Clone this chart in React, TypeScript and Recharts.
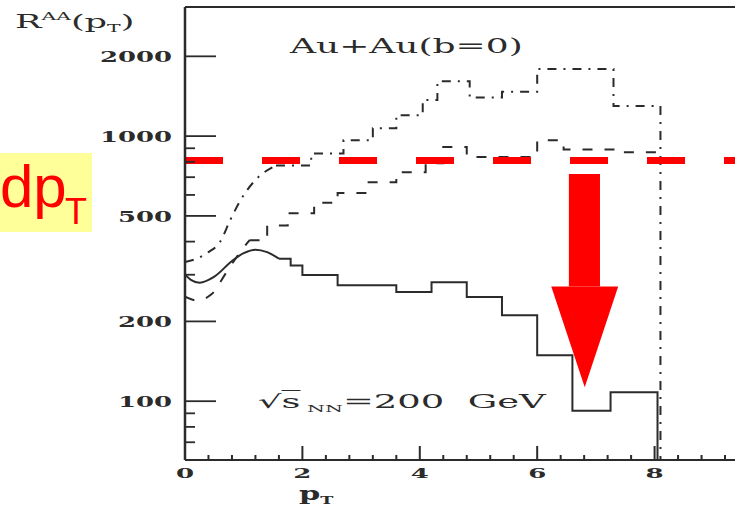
import React from 'react';
import { LineChart, Line, XAxis, YAxis, ReferenceLine, ReferenceArea } from 'recharts';

const X_MAX = 9.37;
const Y_MIN = 60;
const Y_MAX = 3070;

const X_MAJOR = [0, 2, 4, 6, 8];
const X_TICKS = [0, 0.4, 0.8, 1.2, 1.6, 2, 2.4, 2.8, 3.2, 3.6, 4, 4.4, 4.8, 5.2, 5.6, 6, 6.4, 6.8, 7.2, 7.6, 8, 8.4, 8.8, 9.2];
const Y_MAJOR = [100, 200, 500, 1000, 2000];
const Y_TICKS = [70, 80, 90, 100, 200, 300, 400, 500, 600, 700, 800, 900, 1000, 2000];

// solid curve: smooth start, then histogram
const solidSmoothPt = [0, 0.1, 0.25, 0.5, 0.8, 1.0, 1.2, 1.4, 1.6];
const solidSmooth = [300, 287, 280, 295, 338, 362, 373, 365, 345];
const solidStepPt = [1.6, 1.8, 2.0, 2.6, 3.6, 4.2, 4.8, 5.4, 6.0, 6.6, 7.25, 8.05];
const solidStep = [345, 325, 299, 274, 258, 281, 247, 211, 149, 92, 108, 60];

// dashed curve
const dashSmoothPt = [0, 0.2, 0.45, 0.7, 0.9, 1.1];
const dashSmooth = [248, 240, 253, 305, 355, 405];
const dashStepPt = [1.1, 1.4, 1.75, 2.2, 2.6, 3.1, 3.6, 4.1, 4.4, 4.8, 6.0, 6.45, 7.3, 8.1];
const dashStep = [405, 460, 512, 560, 610, 670, 730, 790, 910, 835, 965, 890, 870, 870];

// dash-dot curve
const dotSmoothPt = [0, 0.17, 0.4, 0.6, 0.77, 0.95, 1.2, 1.55];
const dotSmooth = [335, 343, 365, 400, 482, 575, 683, 775];
const dotStepPt = [1.55, 2.15, 2.7, 3.2, 3.6, 4.05, 4.3, 4.85, 5.4, 6.0, 7.3, 8.1];
const dotStep = [775, 860, 965, 1070, 1200, 1370, 1610, 1400, 1470, 1790, 1300, 60];

// red annotation
const RED_LEVEL = 810;
const SHAFT_PT = [6.54, 7.07];
const SHAFT_VAL = [271, 719];
const HEAD_PT = [6.24, 7.38];
const HEAD_VAL = [113, 271];

const zip = (xs: number[], vs: number[]) => xs.map((x, i) => ({ x, v: vs[i] }));

const INK = '#2b2b2b';
const SERIF = "'DejaVu Serif', serif";

const XTick = (props: any) => {
  const { x, y, payload } = props;
  const major = X_MAJOR.includes(payload.value);
  return (
    <g>
      <line x1={x} y1={y} x2={x} y2={y - (major ? 14 : 5)} stroke={INK} strokeWidth={2} />
      {major && (
        <text
          transform={`translate(${x},${y + 14}) scale(2.0,1)`}
          textAnchor="middle"
          dominantBaseline="central"
          fontFamily={SERIF}
          fontWeight="bold"
          fontSize={13}
          fill={INK}
        >
          {payload.value}
        </text>
      )}
    </g>
  );
};

const YTick = (props: any) => {
  const { x, y, payload } = props;
  const major = Y_MAJOR.includes(payload.value);
  return (
    <g>
      <line x1={x} y1={y} x2={x + (major ? 31 : 10)} y2={y} stroke={INK} strokeWidth={1.8} />
      {major && (
        <text
          transform={`translate(${x - 13},${y + 1}) scale(1.85,1)`}
          textAnchor="end"
          dominantBaseline="central"
          fontFamily={SERIF}
          fontWeight="bold"
          fontSize={14}
          fill={INK}
        >
          {payload.value}
        </text>
      )}
    </g>
  );
};

const Triangle = (props: any) => {
  const { x, y, width, height } = props;
  return <polygon points={`${x},${y} ${x + width},${y} ${x + width / 2},${y + height}`} fill="#ff0000" />;
};

const stretched = (left: number, top: number, sx: number): React.CSSProperties => ({
  position: 'absolute',
  left,
  top,
  transform: `scaleX(${sx})`,
  transformOrigin: 'left top',
  fontFamily: SERIF,
  color: INK,
  whiteSpace: 'pre',
  lineHeight: 1,
});

export default function App() {
  return (
    <div style={{ position: 'absolute', left: 0, top: 0, width: 735, height: 507, background: '#fff', overflow: 'hidden' }}>
      <LineChart width={735} height={507} margin={{ top: 7, right: 0, bottom: 0, left: 0 }}>
        <XAxis
          type="number"
          dataKey="x"
          domain={[0, X_MAX]}
          ticks={X_TICKS}
          interval={0}
          height={47}
          tickLine={false}
          tickSize={0}
          tickMargin={0}
          allowDataOverflow
          axisLine={{ stroke: INK, strokeWidth: 2 }}
          tick={<XTick />}
        />
        <YAxis
          type="number"
          scale="log"
          domain={[Y_MIN, Y_MAX]}
          ticks={Y_TICKS}
          interval={0}
          width={185}
          tickLine={false}
          tickSize={0}
          tickMargin={0}
          allowDataOverflow
          axisLine={{ stroke: INK, strokeWidth: 2.5 }}
          tick={<YTick />}
        />
        <ReferenceLine y={Y_MAX} stroke={INK} strokeWidth={2} />

        <Line data={zip(solidSmoothPt, solidSmooth)} dataKey="v" type="monotone" stroke={INK} strokeWidth={2} dot={false} activeDot={false} isAnimationActive={false} />
        <Line data={zip(solidStepPt, solidStep)} dataKey="v" type="stepAfter" stroke={INK} strokeWidth={2} dot={false} activeDot={false} isAnimationActive={false} />

        <Line data={zip(dashSmoothPt, dashSmooth)} dataKey="v" type="monotone" stroke={INK} strokeWidth={2} strokeDasharray="10 12" dot={false} activeDot={false} isAnimationActive={false} />
        <Line data={zip(dashStepPt, dashStep)} dataKey="v" type="stepAfter" stroke={INK} strokeWidth={2} strokeDasharray="10 12" dot={false} activeDot={false} isAnimationActive={false} />

        <Line data={zip(dotSmoothPt, dotSmooth)} dataKey="v" type="monotone" stroke={INK} strokeWidth={2} strokeDasharray="9 7 2 7" dot={false} activeDot={false} isAnimationActive={false} />
        <Line data={zip(dotStepPt, dotStep)} dataKey="v" type="stepAfter" stroke={INK} strokeWidth={2} strokeDasharray="9 7 2 7" dot={false} activeDot={false} isAnimationActive={false} />

        <ReferenceLine y={RED_LEVEL} stroke="#ff0000" strokeWidth={7} strokeDasharray="38 39" />
        <ReferenceArea x1={SHAFT_PT[0]} x2={SHAFT_PT[1]} y1={SHAFT_VAL[0]} y2={SHAFT_VAL[1]} fill="#ff0000" fillOpacity={1} stroke="none" />
        <ReferenceArea x1={HEAD_PT[0]} x2={HEAD_PT[1]} y1={HEAD_VAL[0]} y2={HEAD_VAL[1]} shape={<Triangle />} />
      </LineChart>

      {/* axis titles and labels from the scanned figure */}
      <div style={stretched(15, 12, 1.85)}>
        <span style={{ fontSize: 19 }}>R</span>
        <span style={{ fontSize: 11, position: 'relative', top: -8 }}>AA</span>
        <span style={{ fontSize: 19 }}>(p</span>
        <span style={{ fontSize: 11, position: 'relative', top: 4 }}>T</span>
        <span style={{ fontSize: 19 }}>)</span>
      </div>
      <div style={stretched(290, 36, 1.8)}>
        <span style={{ fontSize: 20 }}>Au+Au(b=0)</span>
      </div>
      <div style={stretched(258, 393, 2.05)}>
        <span style={{ fontSize: 18 }}>√<span style={{ textDecoration: 'overline' }}>s</span></span>
        <span style={{ fontSize: 10, position: 'relative', top: 4 }}> NN</span>
        <span style={{ fontSize: 18 }}>=200  GeV</span>
      </div>
      <div style={stretched(299, 484, 1.6)}>
        <span style={{ fontSize: 19, fontWeight: 'bold' }}>p</span>
        <span style={{ fontSize: 11, fontWeight: 'bold', position: 'relative', top: 4 }}>T</span>
      </div>

      {/* highlighted label */}
      <div style={{ position: 'absolute', left: 0, top: 153, width: 92, height: 79, background: '#ffff99' }} />
      <span style={{ position: 'absolute', left: 0, top: 157, fontFamily: "'Liberation Sans', Arial, sans-serif", fontSize: 60, lineHeight: '60px', color: '#ff0000' }}>dp</span>
      <span style={{ position: 'absolute', left: 65, top: 194, fontFamily: "'Liberation Sans', Arial, sans-serif", fontSize: 36, lineHeight: '36px', color: '#ff0000' }}>T</span>
    </div>
  );
}
